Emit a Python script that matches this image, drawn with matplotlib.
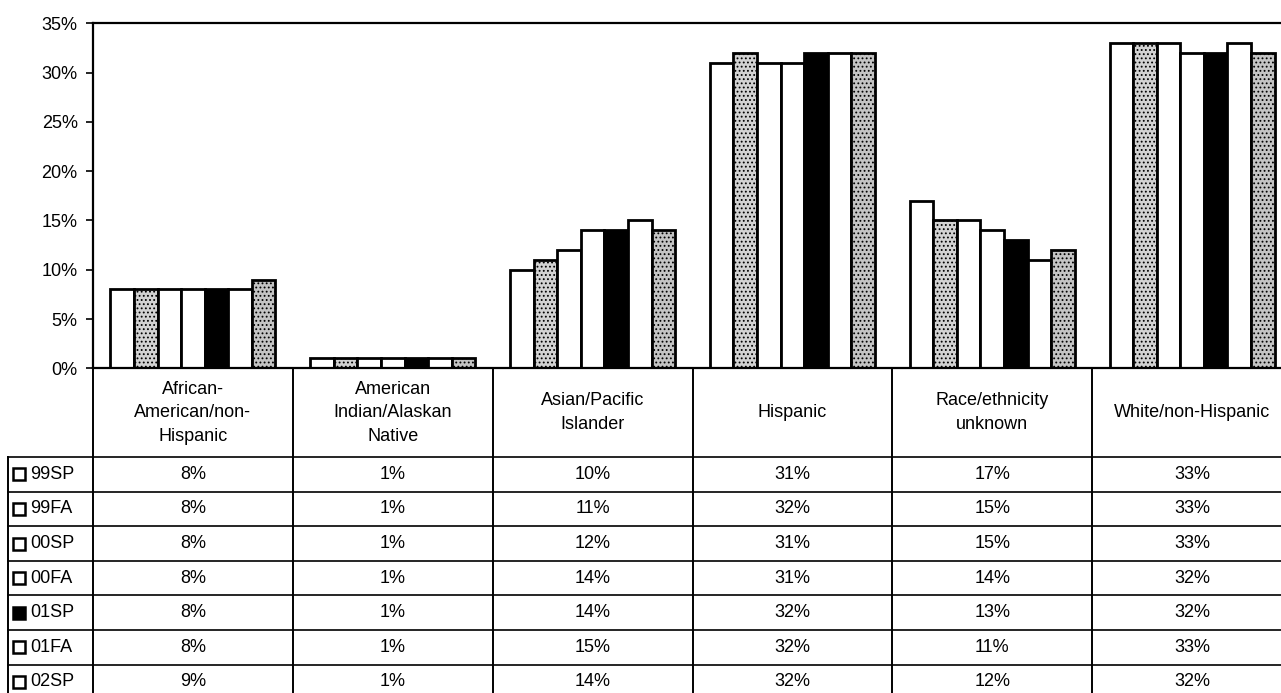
import matplotlib
matplotlib.use('Agg')
import matplotlib.pyplot as plt
from matplotlib.patches import Rectangle
import numpy as np

plt.rcParams.update({
    'font.family': ['Liberation Sans', 'DejaVu Sans'],
    'font.size': 13,
    'hatch.linewidth': 0.8,
})

categories = [
    'African-\nAmerican/non-\nHispanic',
    'American\nIndian/Alaskan\nNative',
    'Asian/Pacific\nIslander',
    'Hispanic',
    'Race/ethnicity\nunknown',
    'White/non-Hispanic',
]
series = ['99SP', '99FA', '00SP', '00FA', '01SP', '01FA', '02SP']
v_99sp = [8, 1, 10, 31, 17, 33]
v_99fa = [8, 1, 11, 32, 15, 33]
v_00sp = [8, 1, 12, 31, 15, 33]
v_00fa = [8, 1, 14, 31, 14, 32]
v_01sp = [8, 1, 14, 32, 13, 32]
v_01fa = [8, 1, 15, 32, 11, 33]
v_02sp = [9, 1, 14, 32, 12, 32]
values = [v_99sp, v_99fa, v_00sp, v_00fa, v_01sp, v_01fa, v_02sp]

fills = ['white', '#d2d2d2', 'white', 'white', 'black', 'white', '#c4c4c4']
hatches = [None, '....', None, None, None, None, '....']
key_fills = ['white', 'white', 'white', 'white', 'black', 'white', 'white']

W, H = 1281, 693
fig = plt.figure(figsize=(W / 100, H / 100), dpi=100)

# pixel geometry of the plot area
x0, x1 = 93, 1292
y_top, y_zero = 23.3, 368.3
ax = fig.add_axes([x0 / W, (H - y_zero) / H, (x1 - x0) / W, (y_zero - y_top) / H])

n_cat = len(categories)
n_ser = len(series)
xs = np.arange(n_cat)
bw = 0.118
for i, (name, vals) in enumerate(zip(series, values)):
    ax.bar(xs + (i - (n_ser - 1) / 2) * bw, vals, width=bw,
           color=fills[i], edgecolor='black', linewidth=2.0,
           hatch=hatches[i], zorder=2)

ax.set_xlim(-0.5, n_cat - 0.5)
ax.set_ylim(0, 35)
ax.set_yticks(range(0, 36, 5))
ax.set_yticklabels([f'{t}%' for t in range(0, 36, 5)], fontsize=13)
ax.set_xticks(np.arange(n_cat + 1) - 0.5)
ax.set_xticklabels([])
ax.tick_params(axis='y', length=5, width=1.2, pad=6)
ax.tick_params(axis='x', length=0)
for side in ('left', 'top', 'bottom'):
    ax.spines[side].set_linewidth(1.6)
ax.spines['right'].set_visible(False)

# data table under the chart, drawn in pixel coordinates
tax = fig.add_axes([0, 0, 1, 1])
tax.set_xlim(0, W)
tax.set_ylim(H, 0)
tax.axis('off')

col_w = (x1 - x0) / n_cat
header_bottom = 457
row_h = 34.6
lab_left = 8
lc = 'black'

# vertical column lines
for k in range(n_cat + 1):
    xx = x0 + k * col_w
    tax.plot([xx, xx], [y_zero, H], color=lc, lw=1.4)
tax.plot([lab_left, lab_left], [header_bottom, H], color=lc, lw=1.4)

# horizontal row lines
tax.plot([lab_left, W], [header_bottom, header_bottom], color=lc, lw=1.2)
for r in range(1, n_ser):
    yy = header_bottom + r * row_h
    tax.plot([lab_left, W], [yy, yy], color=lc, lw=1.2)

# header text
for k, cat in enumerate(categories):
    tax.text(x0 + (k + 0.5) * col_w, (y_zero + header_bottom) / 2, cat,
             ha='center', va='center', fontsize=13, linespacing=1.5)

# rows
for r, (name, vals) in enumerate(zip(series, values)):
    yc = header_bottom + (r + 0.5) * row_h
    tax.add_patch(Rectangle((13, yc - 6), 12, 12, facecolor=key_fills[r],
                            edgecolor='black', linewidth=1.8))
    tax.text(30, yc, name, ha='left', va='center', fontsize=13)
    for k, v in enumerate(vals):
        tax.text(x0 + (k + 0.5) * col_w, yc, f'{v}%', ha='center', va='center', fontsize=13)

fig.savefig('out.png', dpi=100)
